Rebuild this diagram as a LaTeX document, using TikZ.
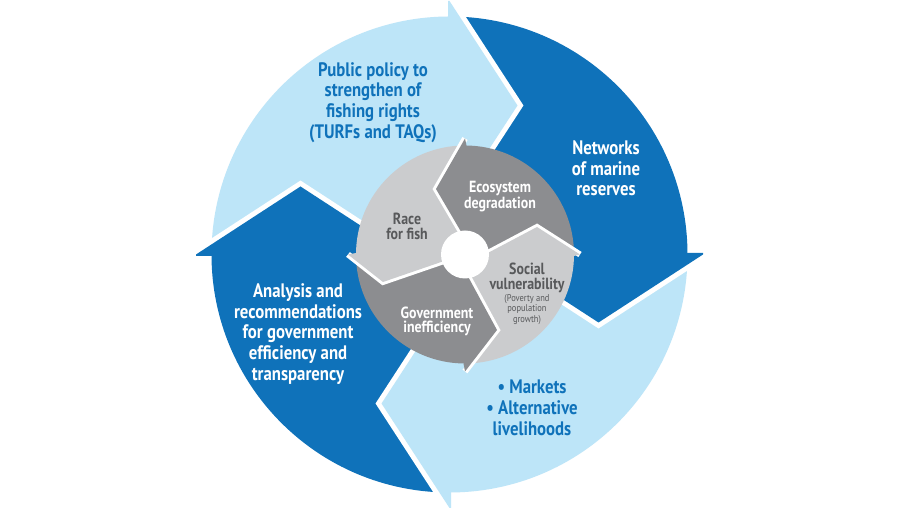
\documentclass[tikz,border=0pt]{standalone}
\usepackage{fontspec}
\setmainfont{PT Sans}[FakeStretch=0.86]
\usepackage{tikz}
\usetikzlibrary{calc}
\definecolor{SkyPale}{HTML}{BDE5F8}
\definecolor{Ocean}{HTML}{0F72BA}
\definecolor{Slate}{HTML}{8C8D90}
\definecolor{Mist}{HTML}{CBCCCE}
\definecolor{Graphite}{HTML}{58595B}

\begin{document}
\begin{tikzpicture}[
    gapline/.style={white,line width=2mm,line join=miter},
    innergap/.style={white,line width=1.2mm,line join=miter},
    outertext/.style={font=\bfseries\fontsize{11.1}{11.8}\selectfont,align=center,inner sep=0pt},
    innertext/.style={font=\bfseries\fontsize{9.2}{8.2}\selectfont,align=center,inner sep=0pt}]
  \useasboundingbox (0,0) rectangle (18,10.4);
  \fill[white] (0,0) rectangle (18,10.4);
  \coordinate (hub) at (8.99,5.31);
  \coordinate (core) at (9.30,5.31);
  % outer ring, one quarter each
  \fill[SkyPale] (hub) -- ++(90:4.76) arc[start angle=90,end angle=180,radius=4.76] -- cycle;
  \fill[Ocean] (hub) -- ++(0:4.76) arc[start angle=0,end angle=90,radius=4.76] -- cycle;
  \fill[SkyPale] (hub) -- ++(270:4.76) arc[start angle=270,end angle=360,radius=4.76] -- cycle;
  \fill[Ocean] (hub) -- ++(180:4.76) arc[start angle=180,end angle=270,radius=4.76] -- cycle;
  % outer heads (clockwise), base pushed back a little to hide the seam
  \begin{scope}[shift={(hub)}]
    \draw[gapline] (0,5.07) -- (1.36,2.98) -- (0,0.89);
    \fill[SkyPale] (-0.03,5.07) -- (0,5.07) -- (1.36,2.98) -- (0,0.89) -- (-0.03,0.89) -- cycle;
  \end{scope}
  \begin{scope}[shift={(hub)},rotate=-90]
    \draw[gapline] (0,5.07) -- (1.36,2.98) -- (0,0.89);
    \fill[Ocean] (-0.03,5.07) -- (0,5.07) -- (1.36,2.98) -- (0,0.89) -- (-0.03,0.89) -- cycle;
  \end{scope}
  \begin{scope}[shift={(hub)},rotate=180]
    \draw[gapline] (0,5.07) -- (1.36,2.98) -- (0,0.89);
    \fill[SkyPale] (-0.03,5.07) -- (0,5.07) -- (1.36,2.98) -- (0,0.89) -- (-0.03,0.89) -- cycle;
  \end{scope}
  \begin{scope}[shift={(hub)},rotate=90]
    \draw[gapline] (0,5.07) -- (1.36,2.98) -- (0,0.89);
    \fill[Ocean] (-0.03,5.07) -- (0,5.07) -- (1.36,2.98) -- (0,0.89) -- (-0.03,0.89) -- cycle;
  \end{scope}
  % inner disc
  \fill[Slate] (core) -- ++(0:2.18) arc[start angle=0,end angle=90,radius=2.18] -- cycle;
  \fill[Mist] (core) -- ++(90:2.18) arc[start angle=90,end angle=180,radius=2.18] -- cycle;
  \fill[Slate] (core) -- ++(180:2.18) arc[start angle=180,end angle=270,radius=2.18] -- cycle;
  \fill[Mist] (core) -- ++(270:2.18) arc[start angle=270,end angle=360,radius=2.18] -- cycle;
  % inner heads (counter-clockwise)
  \begin{scope}[shift={(core)}]
    \draw[innergap] (0,2.32) -- (-0.58,1.31) -- (0,0.32);
    \fill[Slate] (0.03,2.18) -- (0,2.32) -- (-0.58,1.31) -- (0,0.32) -- (0.03,0.32) -- cycle;
  \end{scope}
  \begin{scope}[shift={(core)},rotate=90]
    \draw[innergap] (0,2.34) -- (-0.55,1.64) -- (0,0.04);
    \fill[Mist] (0.03,2.18) -- (0,2.34) -- (-0.55,1.64) -- (0,0.04) -- (0.03,0.04) -- cycle;
  \end{scope}
  \begin{scope}[shift={(core)},rotate=180]
    \draw[innergap] (0,2.34) -- (-0.64,1.51) -- (0,0.33);
    \fill[Slate] (0.03,2.18) -- (0,2.34) -- (-0.64,1.51) -- (0,0.33) -- (0.03,0.33) -- cycle;
  \end{scope}
  \begin{scope}[shift={(core)},rotate=-90]
    \draw[innergap] (0,2.30) -- (-0.55,1.44) -- (0,0.40);
    \fill[Mist] (0.03,2.18) -- (0,2.30) -- (-0.55,1.44) -- (0,0.40) -- (0.03,0.40) -- cycle;
  \end{scope}
  \fill[white] (core) circle (0.48);
  % labels
  \node[outertext,text=Ocean] (policy) at (7.46,8.35)
       {Public policy to\\strengthen of\\fishing rights\\(TURFs and TAQs)};
  \node[outertext,text=white] (networks) at (12.12,7.03)
       {Networks\\of marine\\reserves};
  \node[outertext,text=Ocean] (markets) at (10.64,2.24)
       {• Markets\\• Alternative\\livelihoods};
  \node[outertext,text=white] (analysis) at (5.96,3.72)
       {Analysis and\\recommendations\\for government\\efficiency and\\transparency};
  \node[innertext,text=white] (ecosys) at (10.00,6.47) {Ecosystem\\degradation};
  \node[innertext,text=Graphite] (race) at (8.14,5.87) {Race\\for fish};
  \node[innertext,text=white] (govt) at (8.74,3.97) {Government\\inefficiency};
  \node[innertext,text=Graphite] (social) at (10.54,4.84) {Social\\vulnerability};
  \node[text=Graphite,font=\fontsize{5.6}{6.1}\selectfont,align=center,inner sep=0pt]
       (socialnote) at (10.54,4.21) {(Poverty and\\population\\growth)};
\end{tikzpicture}
\end{document}
